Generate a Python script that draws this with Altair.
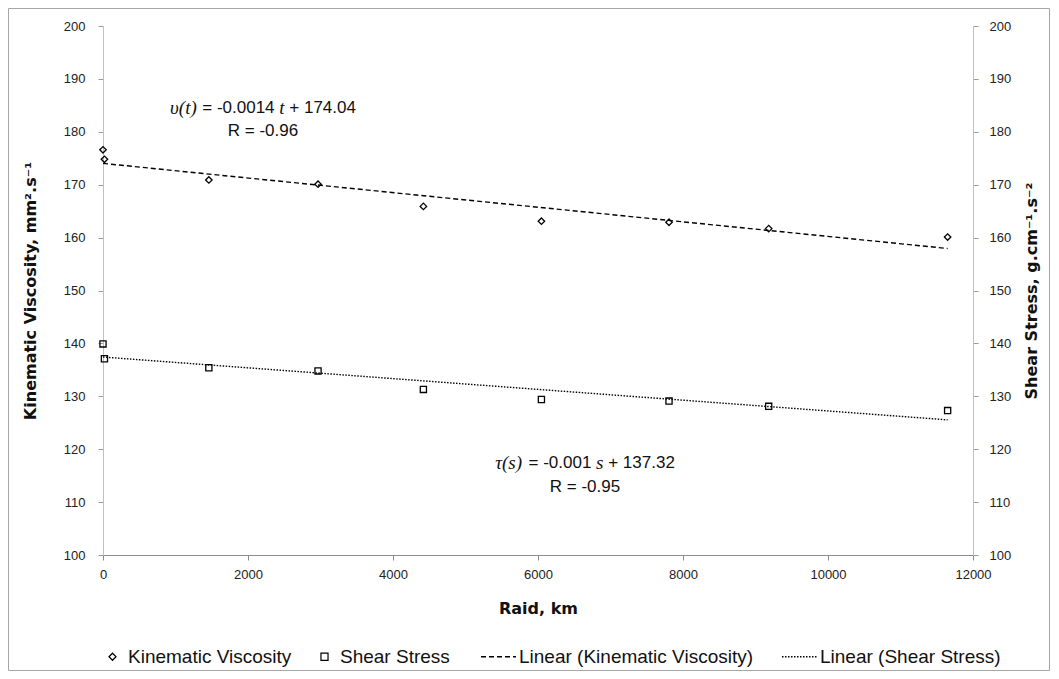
import altair as alt
import pandas as pd

# ---- data ----
raid_km = [0, 20, 1460, 2966, 4419, 6047, 7807, 9182, 11650]
kinematic_viscosity = [176.6, 174.8, 170.9, 170.1, 165.9, 163.1, 162.9, 161.7, 160.1]
shear_stress = [139.9, 137.1, 135.4, 134.8, 131.3, 129.4, 129.1, 128.1, 127.3]
series_names = ["Kinematic Viscosity", "Shear Stress"]
trend_names = ["Linear (Kinematic Viscosity)", "Linear (Shear Stress)"]
x_ticks = [0, 2000, 4000, 6000, 8000, 10000, 12000]
y_ticks = [100, 110, 120, 130, 140, 150, 160, 170, 180, 190, 200]
# equation pieces: (text, style) -- "i" = italic serif, "s" = sans
eq_kv = [("υ(t)", "i"), ("= -0.0014", "s"), ("t", "i"), ("+ 174.04", "s")]
eq_ss = [("τ(s)", "i"), ("= -0.001", "s"), ("s", "i"), ("+ 137.32", "s")]
r_kv = "R = -0.96"
r_ss = "R = -0.95"

df = pd.DataFrame({
    "raid": raid_km + raid_km,
    "value": kinematic_viscosity + shear_stress,
    "series": [series_names[0]] * len(raid_km) + [series_names[1]] * len(raid_km),
})

FONT = "Liberation Sans"
SERIF = "Liberation Serif"
TFONT = "DejaVu Sans"
W, H = 870, 529
SANS_SIZE, SERIF_SIZE = 17, 19

x_enc = alt.X("raid:Q", scale=alt.Scale(domain=[0, 12000], nice=False),
              axis=alt.Axis(values=x_ticks, title="Raid, km", grid=False, format="d",
                            labelFlush=False, domainColor="#8c8c8c", tickColor="#8c8c8c",
                            labelPadding=8, titlePadding=19))

common_legend = dict(orient="none", direction="horizontal", title=None,
                     labelFont=FONT, labelFontSize=19, labelColor="#111",
                     labelLimit=400, symbolStrokeColor="black")

point_legend = alt.Legend(legendX=0, legendY=621, columns=2, labelOffset=6,
                          columnPadding=23, symbolSize=50, symbolStrokeWidth=1.2,
                          symbolFillColor="white", **common_legend)
line_legend = alt.Legend(legendX=377, legendY=612, columns=2, labelOffset=2,
                         columnPadding=25, symbolSize=1225, symbolType="stroke",
                         symbolStrokeWidth=1.4, **common_legend)

shape_enc = alt.Shape("series:N", scale=alt.Scale(domain=series_names,
                      range=["diamond", "square"]), legend=point_legend)
dash_enc = alt.StrokeDash("label:N", scale=alt.Scale(domain=trend_names,
                          range=[[5, 3], [1.5, 1.5]]), legend=line_legend)


def y_enc(orient, title):
    if orient == "right":
        extra = dict(titleAngle=270, titleBaseline="top", titlePadding=13, labelPadding=11)
    else:
        extra = dict(titlePadding=25, labelPadding=13)
    return alt.Y("value:Q", scale=alt.Scale(domain=[100, 200], nice=False),
                 axis=alt.Axis(orient=orient, values=y_ticks, title=title, grid=False,
                               domainColor="#c0c0c0", tickColor="#9a9a9a", **extra))


def layer_for(name, orient, title, size):
    base = alt.Chart(df).transform_filter(alt.datum.series == name)
    pts = base.mark_point(filled=False, color="black", strokeWidth=1.3,
                          opacity=1, size=size).encode(
        x=x_enc, y=y_enc(orient, title), shape=shape_enc)
    line = base.transform_regression("raid", "value", groupby=["series"]).transform_calculate(
        label="'Linear (' + datum.series + ')'"
    ).mark_line(color="black", strokeWidth=1.4).encode(
        x=x_enc, y=y_enc(orient, title), strokeDash=dash_enc)
    return alt.layer(line, pts)


left = layer_for(series_names[0], "left", "Kinematic Viscosity, mm².s⁻¹", 42)
right = layer_for(series_names[1], "right", "Shear Stress, g.cm⁻¹.s⁻²", 38)

# approximate advance widths (em) for laying out the mixed-font equations
SANS_W = {"=": 0.584, " ": 0.278, "-": 0.333, ".": 0.278, "+": 0.584}
SERIF_W = {"υ": 0.50, "τ": 0.45, "(": 0.333, ")": 0.333, "t": 0.278, "s": 0.389}


def text_width(text, style):
    if style == "i":
        return sum(SERIF_W.get(c, 0.5) for c in text) * SERIF_SIZE
    return sum(SANS_W.get(c, 0.556) for c in text) * SANS_SIZE


def one_text(text, x, y, style, align="left"):
    font = SERIF if style == "i" else FONT
    size = SERIF_SIZE if style == "i" else SANS_SIZE
    return alt.Chart(pd.DataFrame({"t": [text]})).mark_text(
        font=font, fontSize=size, fontStyle="italic" if style == "i" else "normal",
        color="#111", align=align, baseline="middle"
    ).encode(x=alt.value(x), y=alt.value(y), text="t:N")


def equation(parts, cx, y):
    gap = 0.278 * SANS_SIZE
    total = sum(text_width(t, s) for t, s in parts) + gap * (len(parts) - 1)
    x = cx - total / 2
    layers = []
    for t, s in parts:
        layers.append(one_text(t, x, y, s))
        x += text_width(t, s) + gap
    return layers


notes = alt.layer(
    *equation(eq_kv, 160, 82), one_text(r_kv, 160, 105, "s", "center"),
    *equation(eq_ss, 482, 437), one_text(r_ss, 482, 461, "s", "center"),
)

frame = alt.Chart(pd.DataFrame({"k": [0]})).mark_rect(
    fill="transparent", stroke="#a6a6a6", strokeWidth=1
).encode(x=alt.value(-94.5), x2=alt.value(946.5), y=alt.value(-17.5), y2=alt.value(644.5))

chart = alt.layer(frame, left, right, notes).resolve_scale(y="independent").properties(
    width=W, height=H,
    autosize=alt.AutoSizeParams(type="none"),
    padding={"left": 95, "top": 18, "right": 77, "bottom": 116},
).configure_view(stroke=None).configure_axis(
    labelFont=FONT, labelFontSize=13, labelColor="#222",
    titleFont=TFONT, titleFontSize=16, titleFontWeight="bold", titleColor="#111",
    tickSize=5,
)

chart.save("out.html", embed_options={"renderer": "svg", "actions": False})
